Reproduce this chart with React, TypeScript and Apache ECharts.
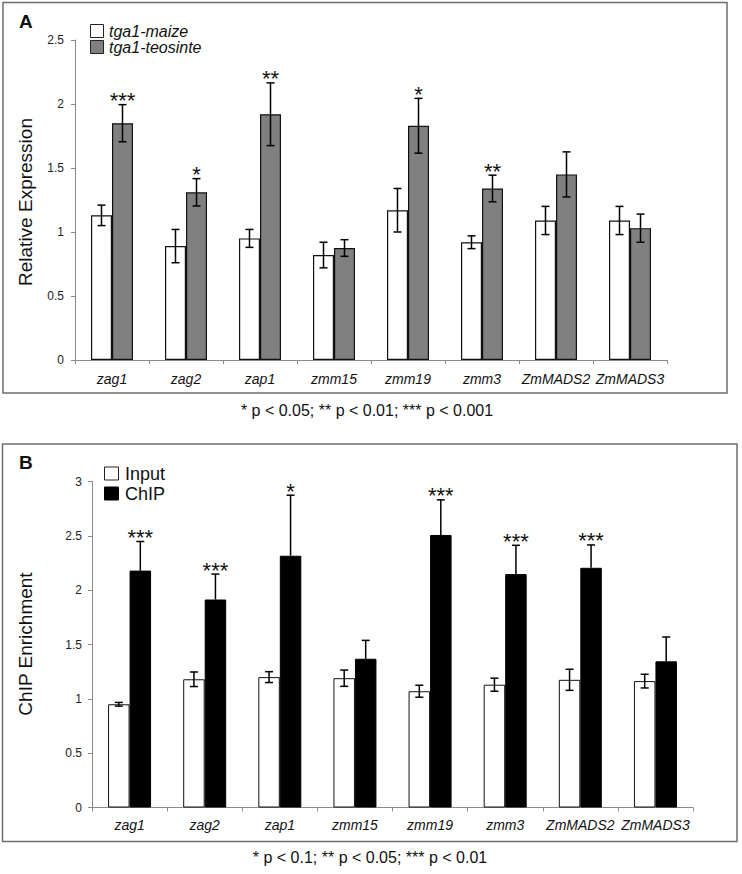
import React, { useEffect, useRef } from "react";
import * as echarts from "echarts";

const categories = ["zag1", "zag2", "zap1", "zmm15", "zmm19", "zmm3", "ZmMADS2", "ZmMADS3"];

// Panel A: relative expression
const maizeMean = [1.13, 0.89, 0.95, 0.82, 1.17, 0.92, 1.09, 1.09];
const maizeErr = [0.08, 0.13, 0.07, 0.1, 0.17, 0.05, 0.11, 0.11];
const teosinteMean = [1.85, 1.31, 1.92, 0.875, 1.83, 1.34, 1.45, 1.03];
const teosinteErr = [0.145, 0.107, 0.245, 0.065, 0.214, 0.104, 0.176, 0.11];
const teosinteStars = ["***", "*", "**", "", "*", "**", "", ""];
const aTicks = [0, 0.5, 1, 1.5, 2, 2.5];

// Panel B: ChIP enrichment
const inputMean = [0.95, 1.18, 1.2, 1.19, 1.07, 1.13, 1.175, 1.163];
const inputErr = [0.017, 0.067, 0.05, 0.075, 0.055, 0.06, 0.097, 0.063];
const chipMean = [2.18, 1.914, 2.317, 1.369, 2.508, 2.148, 2.206, 1.345];
const chipErr = [0.268, 0.234, 0.557, 0.169, 0.323, 0.265, 0.21, 0.224];
const chipStars = ["***", "***", "*", "", "***", "***", "***", ""];
const bTicks = [0, 0.5, 1, 1.5, 2, 2.5, 3];

const FONT = "'Liberation Sans', Arial, Helvetica, sans-serif";

function errRender(means: number[], errs: number[], stars: string[], sign: number, barW: number, lowerToo: boolean) {
  return (params: any, api: any) => {
    const i = params.dataIndex;
    const idx = api.value(0);
    const m = means[i];
    const e = errs[i];
    const c = api.coord([idx, m]);
    const x = c[0] + sign * barW / 2;
    const hi = api.coord([idx, m + e])[1];
    const lo = lowerToo ? api.coord([idx, m - e])[1] : c[1];
    const cap = 4;
    const st = { stroke: "#000", lineWidth: 1.5 };
    const children: any[] = [
      { type: "line", shape: { x1: x, y1: hi, x2: x, y2: lo }, style: st },
      { type: "line", shape: { x1: x - cap, y1: hi, x2: x + cap, y2: hi }, style: st },
    ];
    if (lowerToo) {
      children.push({ type: "line", shape: { x1: x - cap, y1: lo, x2: x + cap, y2: lo }, style: st });
    }
    if (stars[i]) {
      children.push({
        type: "text",
        style: {
          x,
          y: hi - 4,
          text: stars[i],
          fontSize: 22,
          fontFamily: FONT,
          fill: "#111",
          align: "center",
          verticalAlign: "middle",
        },
      });
    }
    return { type: "group", children };
  };
}

function yAxisCfg(gridIndex: number, max: number, margin: number) {
  return {
    type: "value",
    gridIndex,
    min: 0,
    max,
    interval: 0.5,
    axisLine: { show: true, lineStyle: { color: "#8a8a8a", width: 1 } },
    axisTick: { show: true, length: 4, lineStyle: { color: "#8a8a8a" } },
    splitLine: { show: false },
    axisLabel: { fontSize: 12, color: "#222", fontFamily: FONT, margin },
  };
}

function xAxisCfg(gridIndex: number, margin: number) {
  return {
    type: "category",
    gridIndex,
    data: categories,
    axisLine: { show: true, lineStyle: { color: "#8a8a8a", width: 1 } },
    axisTick: { show: true, length: 4, lineStyle: { color: "#8a8a8a" } },
    axisLabel: { fontSize: 14, fontStyle: "italic", color: "#111", fontFamily: FONT, margin, interval: 0 },
  };
}

export default function App() {
  const ref = useRef<HTMLDivElement>(null);
  useEffect(() => {
    if (!ref.current) return;
    const chart = echarts.init(ref.current, undefined, { renderer: "svg" });
    const idxData = categories.map((_, i) => [i, 0]);
    const bwA = 21;
    const bwB = 21.5;
    chart.setOption({
      animation: false,
      backgroundColor: "#fff",
      textStyle: { fontFamily: FONT },
      grid: [
        { left: 75, top: 40, width: 592, height: 320 },
        { left: 92, top: 481.5, width: 601, height: 326 },
      ],
      xAxis: [xAxisCfg(0, 12), xAxisCfg(1, 10)],
      yAxis: [yAxisCfg(0, 2.5, 11), yAxisCfg(1, 3, 10)],
      series: [
        {
          name: "tga1-maize",
          type: "bar",
          xAxisIndex: 0,
          yAxisIndex: 0,
          data: maizeMean,
          barWidth: bwA,
          barGap: "0%",
          itemStyle: { color: "#ffffff", borderColor: "#111", borderWidth: 1.2 },
        },
        {
          name: "tga1-teosinte",
          type: "bar",
          xAxisIndex: 0,
          yAxisIndex: 0,
          data: teosinteMean,
          barWidth: bwA,
          barGap: "0%",
          itemStyle: { color: "#808080", borderColor: "#111", borderWidth: 1.2 },
        },
        {
          type: "custom",
          xAxisIndex: 0,
          yAxisIndex: 0,
          data: idxData,
          z: 5,
          renderItem: errRender(maizeMean, maizeErr, ["", "", "", "", "", "", "", ""], -1, bwA, true),
        },
        {
          type: "custom",
          xAxisIndex: 0,
          yAxisIndex: 0,
          data: idxData,
          z: 5,
          renderItem: errRender(teosinteMean, teosinteErr, teosinteStars, 1, bwA, true),
        },
        {
          name: "Input",
          type: "bar",
          xAxisIndex: 1,
          yAxisIndex: 1,
          data: inputMean,
          barWidth: bwB,
          barGap: "0%",
          itemStyle: { color: "#ffffff", borderColor: "#111", borderWidth: 1 },
        },
        {
          name: "ChIP",
          type: "bar",
          xAxisIndex: 1,
          yAxisIndex: 1,
          data: chipMean,
          barWidth: bwB,
          barGap: "0%",
          itemStyle: { color: "#000000", borderColor: "#000", borderWidth: 1 },
        },
        {
          type: "custom",
          xAxisIndex: 1,
          yAxisIndex: 1,
          data: idxData,
          z: 5,
          renderItem: errRender(inputMean, inputErr, ["", "", "", "", "", "", "", ""], -1, bwB, true),
        },
        {
          type: "custom",
          xAxisIndex: 1,
          yAxisIndex: 1,
          data: idxData,
          z: 5,
          renderItem: errRender(chipMean, chipErr, chipStars, 1, bwB, false),
        },
      ],
      graphic: [
        // panel frames
        { type: "rect", shape: { x: 3, y: 2.5, width: 724, height: 390.5 }, style: { fill: "none", stroke: "#6e6e6e", lineWidth: 1.5 }, z: -1 },
        { type: "rect", shape: { x: 2.5, y: 444, width: 734.5, height: 397.5 }, style: { fill: "none", stroke: "#6e6e6e", lineWidth: 1.5 }, z: -1 },
        // panel letters
        { type: "text", style: { x: 19, y: 21, text: "A", fontSize: 19, fontWeight: "bold", fontFamily: FONT, fill: "#111", verticalAlign: "middle" } },
        { type: "text", style: { x: 19, y: 462, text: "B", fontSize: 19, fontWeight: "bold", fontFamily: FONT, fill: "#111", verticalAlign: "middle" } },
        // legend A
        { type: "rect", shape: { x: 90.5, y: 24.5, width: 13, height: 13 }, style: { fill: "#fff", stroke: "#222", lineWidth: 1 } },
        { type: "rect", shape: { x: 90.5, y: 40.5, width: 13, height: 13 }, style: { fill: "#808080", stroke: "#222", lineWidth: 1 } },
        { type: "text", style: { x: 109, y: 31, text: "tga1-maize", fontSize: 16, fontStyle: "italic", fontFamily: FONT, fill: "#111", verticalAlign: "middle" } },
        { type: "text", style: { x: 109, y: 47, text: "tga1-teosinte", fontSize: 16, fontStyle: "italic", fontFamily: FONT, fill: "#111", verticalAlign: "middle" } },
        // legend B
        { type: "rect", shape: { x: 104.5, y: 467, width: 14, height: 13 }, style: { fill: "#fff", stroke: "#222", lineWidth: 1 } },
        { type: "rect", shape: { x: 104.5, y: 487, width: 14, height: 13 }, style: { fill: "#000", stroke: "#000", lineWidth: 1 } },
        { type: "text", style: { x: 125, y: 474, text: "Input", fontSize: 18, fontFamily: FONT, fill: "#111", verticalAlign: "middle" } },
        { type: "text", style: { x: 125, y: 494, text: "ChIP", fontSize: 18, fontFamily: FONT, fill: "#111", verticalAlign: "middle" } },
        // y-axis names
        { type: "text", x: 25, y: 202, rotation: Math.PI / 2, style: { x: 0, y: 0, text: "Relative Expression", fontSize: 19, fontFamily: FONT, fill: "#111", align: "center", verticalAlign: "middle" } },
        { type: "text", x: 25, y: 644, rotation: Math.PI / 2, style: { x: 0, y: 0, text: "ChIP Enrichment", fontSize: 19, fontFamily: FONT, fill: "#111", align: "center", verticalAlign: "middle" } },
        // footnotes
        { type: "text", style: { x: 367, y: 410, text: "* p < 0.05; ** p < 0.01; *** p < 0.001", fontSize: 16, fontFamily: FONT, fill: "#111", align: "center", verticalAlign: "middle" } },
        { type: "text", style: { x: 370, y: 857, text: "* p < 0.1; ** p < 0.05; *** p < 0.01", fontSize: 16, fontFamily: FONT, fill: "#111", align: "center", verticalAlign: "middle" } },
      ],
    });
    return () => chart.dispose();
  }, []);
  return <div ref={ref} style={{ position: "absolute", left: 0, top: 0, width: 742, height: 874 }} />;
}
